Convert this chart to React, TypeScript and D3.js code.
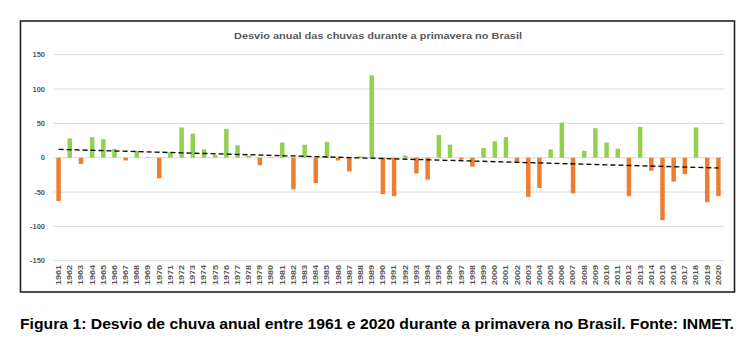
import React from 'react';
import * as d3 from 'd3';

const years = d3.range(1961, 2021).map(String);
const deviations = [
  -63, 28, -9, 30, 27, 13, -4, 10, 1, -30,
  8, 44, 35, 12, 4, 42, 18, 3, -11, 1,
  22, -46, 19, -37, 23, -4, -20, 2, 120, -53,
  -56, 3, -23, -32, 33, 19, -3, -13, 14, 24,
  30, -7, -57, -44, 12, 51, -52, 10, 43, 22,
  13, -56, 45, -19, -91, -35, -24, 44, -65, -56,
];
const yTicks = [150, 100, 50, 0, -50, -100, -150];

const title = 'Desvio anual das chuvas durante a primavera no Brasil';
const caption = 'Figura 1: Desvio de chuva anual entre 1961 e 2020 durante a primavera no Brasil. Fonte: INMET.';

const FONT = '"Liberation Sans", Arial, sans-serif';

export default function App() {
  const width = 754;
  const height = 354;

  const x = d3.scaleBand<string>()
    .domain(years)
    .range([53, 724])
    .paddingInner(0.6)
    .paddingOuter(0.3);

  const y = d3.scaleLinear()
    .domain([-150, 150])
    .range([260.7, 54.7]);

  // least squares trend of the series
  const idx = deviations.map((_, i) => i);
  const mx = d3.mean(idx) as number;
  const my = d3.mean(deviations) as number;
  const slope = d3.sum(idx, i => (i - mx) * (deviations[i] - my)) / d3.sum(idx, i => (i - mx) ** 2);
  const intercept = my - slope * mx;
  const half = x.bandwidth() / 2;
  const trend = d3.line<number>()
    .x(i => (x(years[i]) as number) + half)
    .y(i => y(intercept + slope * i));

  return (
    <svg width={width} height={height} style={{ position: 'absolute', left: 0, top: 0, background: '#fff' }}>
      <rect x={20.5} y={21} width={714} height={271} fill="#fff" stroke="#222" strokeWidth={1.6} />
      <text x={378} y={39} textAnchor="middle" fontFamily={FONT} fontWeight="bold" fontSize={9.5}
        fill="#595959" textLength={288} lengthAdjust="spacingAndGlyphs">{title}</text>

      {yTicks.map(t => (
        <g key={t}>
          <line x1={53} x2={724} y1={y(t)} y2={y(t)} stroke="#dcdcdc" strokeWidth={1} />
          <text x={45} y={y(t)} dy="0.35em" textAnchor="end" fontFamily={FONT} fontSize={7.5}
            fontWeight="bold" fill="#595959">{t}</text>
        </g>
      ))}

      {deviations.map((v, i) => (
        <rect key={years[i]}
          x={x(years[i])}
          y={y(Math.max(0, v))}
          width={x.bandwidth()}
          height={Math.abs(y(v) - y(0))}
          fill={v >= 0 ? '#92d050' : '#ed7d31'} />
      ))}

      <path d={trend([0, deviations.length - 1]) || ''} fill="none" stroke="#111"
        strokeWidth={1.4} strokeDasharray="5,3" />

      {years.map(yr => (
        <text key={yr}
          transform={`translate(${(x(yr) as number) + half + 2.4},265) rotate(-90)`}
          textAnchor="end" fontFamily={FONT} fontSize={7} fontWeight="bold" fill="#595959"
          textLength={20} lengthAdjust="spacingAndGlyphs">{yr}</text>
      ))}

      <text x={20} y={329} fontFamily={FONT} fontWeight="bold" fontSize={14} fill="#000"
        textLength={714} lengthAdjust="spacingAndGlyphs">{caption}</text>
    </svg>
  );
}
